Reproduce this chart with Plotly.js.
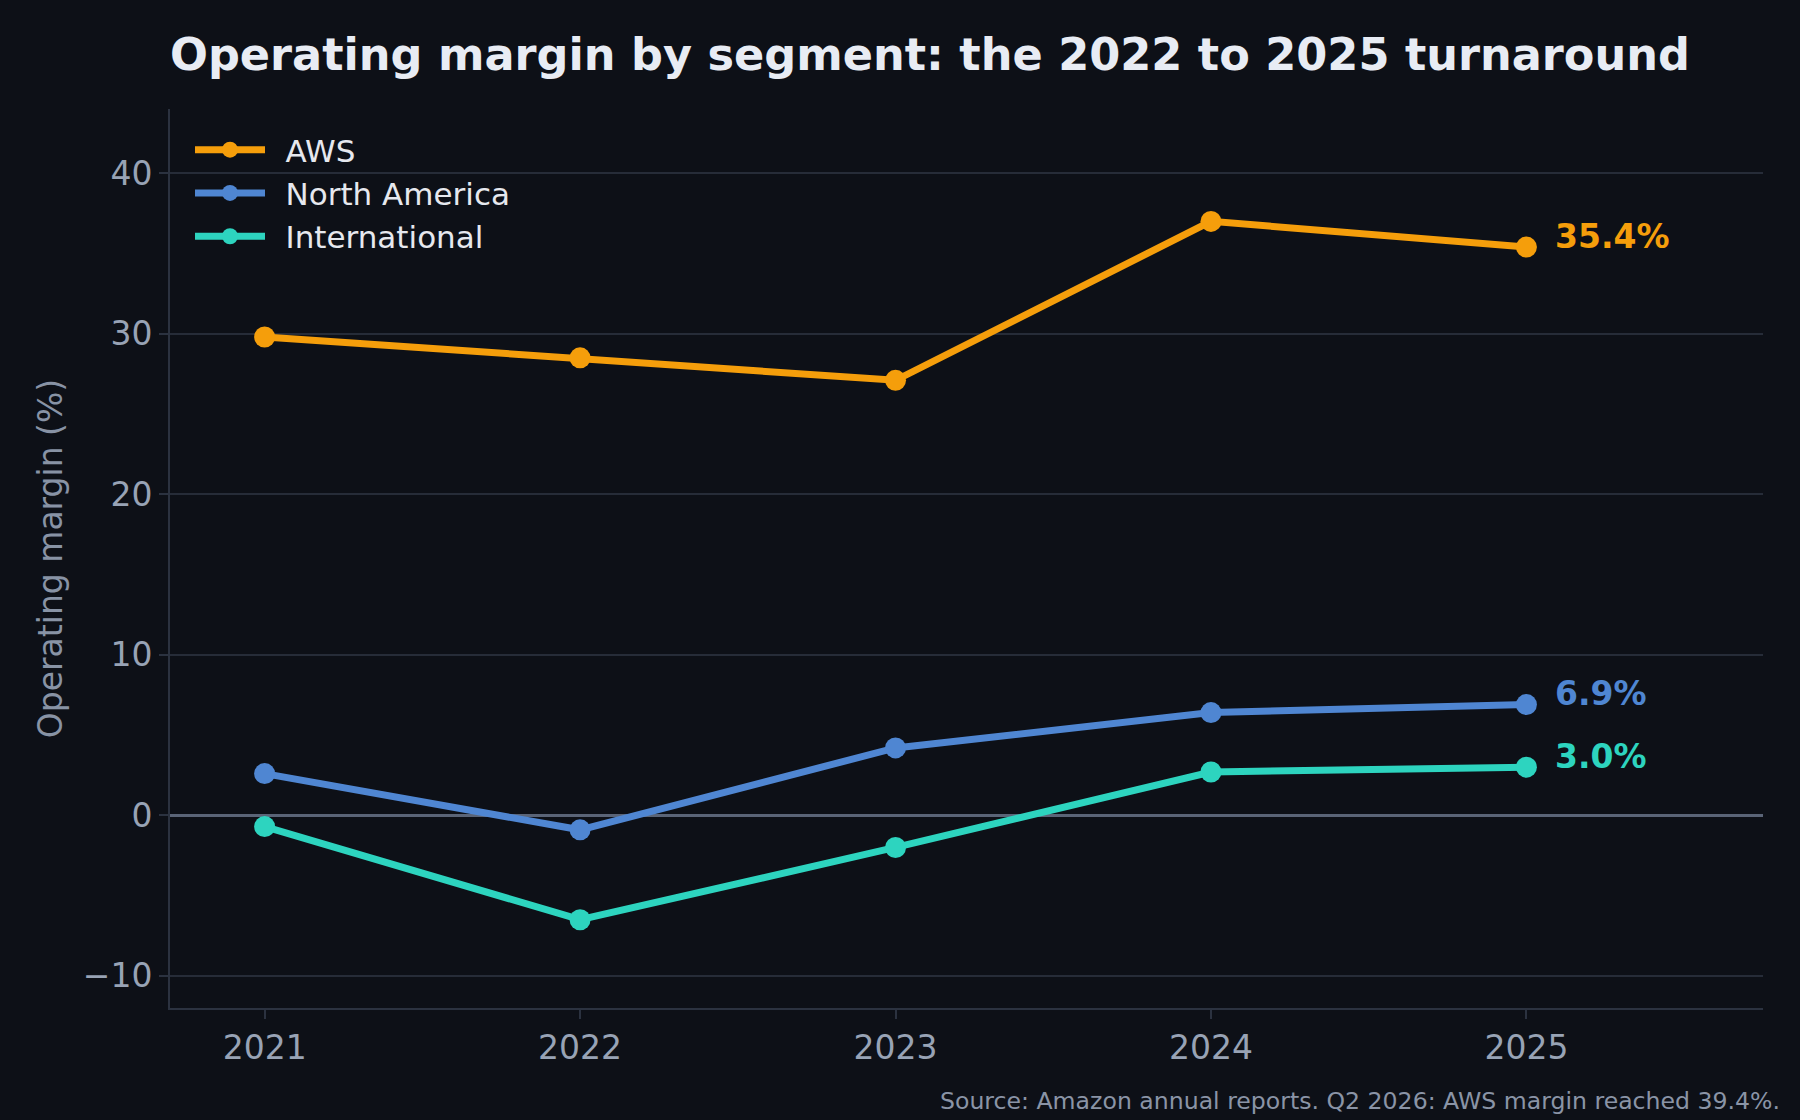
<!DOCTYPE html>
<html>
<head>
<meta charset="utf-8">
<script src="https://cdn.plot.ly/plotly-3.0.1.min.js"></script>
<style>html,body{margin:0;padding:0;background:#0d1017;}</style>
</head>
<body>
<div id="chart" style="width:1800px;height:1120px;"></div>
<script>
const years = [2021, 2022, 2023, 2024, 2025];
const awsMargin = [29.8, 28.5, 27.1, 37.0, 35.4];
const northAmericaMargin = [2.6, -0.9, 4.2, 6.4, 6.9];
const internationalMargin = [-0.7, -6.5, -2.0, 2.7, 3.0];
const seriesNames = ['AWS', 'North America', 'International'];
const seriesColors = ['#f59e0b', '#4f86d2', '#2dd4bf'];
const yTickVals = [-10, 0, 10, 20, 30, 40];
const yTickText = ['\u221210', '0', '10', '20', '30', '40'];
const titleText = 'Operating margin by segment: the 2022 to 2025 turnaround';
const yTitleText = 'Operating margin (%)';
const sourceText = 'Source: Amazon annual reports. Q2 2026: AWS margin reached 39.4%.';

const font = '"DejaVu Sans", "Liberation Sans", sans-serif';
const seriesValues = [awsMargin, northAmericaMargin, internationalMargin];

const traces = seriesValues.map((vals, i) => ({
  x: years, y: vals, name: '\u2002' + seriesNames[i], type: 'scatter', mode: 'lines+markers',
  legendgroup: 'g' + i,
  line: {color: seriesColors[i], width: 7},
  marker: {color: seriesColors[i], size: 21},
  hoverinfo: 'skip'
}));

const endLabels = seriesValues.map((vals, i) => ({
  x: years[years.length - 1], y: vals[vals.length - 1], xref: 'x', yref: 'y',
  text: '<b>' + vals[vals.length - 1].toFixed(1) + '%</b>',
  showarrow: false, xanchor: 'left', yanchor: 'middle', xshift: 27, yshift: 11,
  font: {family: font, size: 33, color: seriesColors[i]}
}));

const layout = {
  width: 1800, height: 1120,
  paper_bgcolor: '#0d1017', plot_bgcolor: '#0d1017',
  margin: {l: 170, r: 37, t: 109, b: 112},
  font: {family: font, color: '#98a3b5'},
  title: {
    text: '<b>' + titleText + '</b>', x: 170/1800, xanchor: 'left', xref: 'container',
    y: 1 - 54/1120, yanchor: 'middle', yref: 'container',
    font: {family: font, size: 44.6, color: '#e8ecf4'}
  },
  showlegend: true,
  legend: {
    x: 20/1593, xanchor: 'left', y: 1 - 14/899, yanchor: 'top', xref: 'paper', yref: 'paper',
    bgcolor: 'rgba(0,0,0,0)', borderwidth: 0,
    font: {family: font, size: 31, color: '#e6e8ee'},
    traceorder: 'grouped', tracegroupgap: 0, itemwidth: 70
  },
  xaxis: {
    range: [2020.7, 2025.75], tickvals: years, ticktext: years.map(String),
    showgrid: false, zeroline: false,
    showline: true, linecolor: '#2b3240', linewidth: 2,
    ticks: 'outside', ticklen: 9, tickwidth: 2, tickcolor: '#2b3240',
    tickfont: {family: font, size: 33, color: '#98a3b5'}
  },
  yaxis: {
    range: [-12, 44], tickvals: yTickVals, ticktext: yTickText,
    showgrid: true, gridcolor: '#262c38', gridwidth: 2,
    zeroline: true, zerolinecolor: '#5a6477', zerolinewidth: 2.5,
    showline: true, linecolor: '#2b3240', linewidth: 2,
    ticks: 'outside', ticklen: 9, tickwidth: 2, tickcolor: '#2b3240',
    tickfont: {family: font, size: 33, color: '#98a3b5'},
    title: {text: yTitleText, font: {family: font, size: 33, color: '#8893a5'}, standoff: 10}
  },
  annotations: endLabels.concat([{
    x: 1, xref: 'paper', xanchor: 'right', xshift: 19,
    y: -(1101 - 1008) / 899, yref: 'paper', yanchor: 'middle',
    text: sourceText, showarrow: false,
    font: {family: font, size: 23.6, color: '#8a94a6'}
  }])
};

Plotly.newPlot('chart', traces, layout, {displayModeBar: false, staticPlot: true});
</script>
</body>
</html>
